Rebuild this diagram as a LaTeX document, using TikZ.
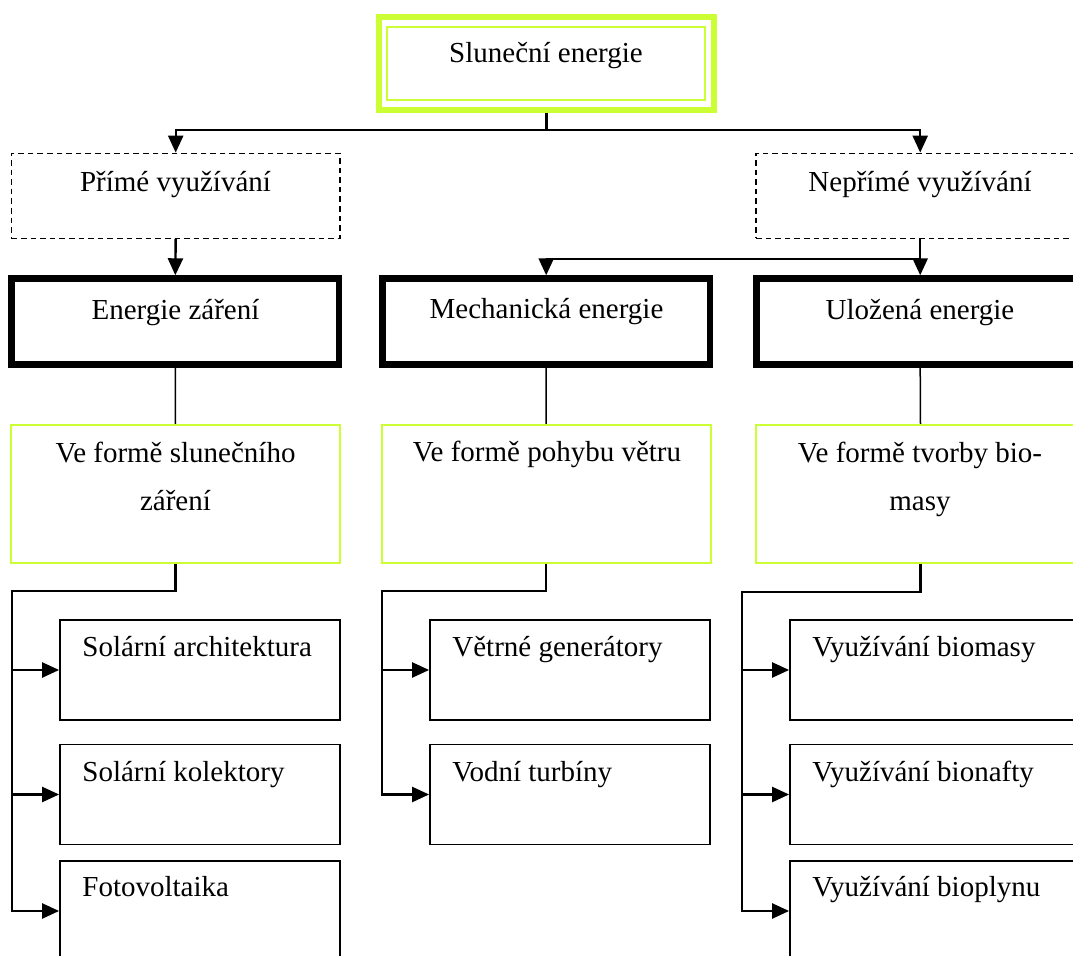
\documentclass[tikz,border=0pt]{standalone}
\usepackage{fontspec}
\setmainfont{Liberation Serif}
\usetikzlibrary{arrows.meta}
\definecolor{sunlime}{RGB}{204,255,51}

\begin{document}
\begin{tikzpicture}[x=0.5pt,y=-0.5pt,
  txt/.style={font=\fontsize{14.5}{24}\selectfont, inner sep=0pt},
  frame/.style={draw, rectangle, inner sep=0pt},
  sunouter/.style={frame, draw=sunlime, line width=3pt, minimum width=167.5pt, minimum height=46.5pt},
  suninner/.style={frame, draw=sunlime, line width=1pt, minimum width=159pt, minimum height=36.5pt},
  waybox/.style={frame, line width=0.7pt, dash pattern=on 2.8pt off 2pt, minimum width=164.25pt, minimum height=42.5pt},
  formbox/.style={frame, line width=3.2pt, minimum width=163.75pt, minimum height=43pt},
  greenbox/.style={frame, draw=sunlime, line width=1pt, minimum width=164.5pt, minimum height=69pt},
  usebox/.style={frame, line width=0.9pt, minimum width=140pt, minimum height=50pt},
  conn/.style={line width=1.2pt},
  arr/.style={conn, -{Triangle[length=8.5pt,width=7.5pt]}},
  thinline/.style={line width=0.75pt}
]
\useasboundingbox (0,0) rectangle (1073,956);

% --- top: source ---
\node[sunouter] (sun) at (546.5,63.5) {};
\node[suninner] (sunin) at (546,63.5) {};
\node[txt, anchor=base] (sunT) at (546,63) {Sluneční energie};

% --- ways of use ---
\node[waybox] (direct) at (175.7,195.8) {};
\node[txt, anchor=base] (directT) at (175.5,192) {Přímé využívání};
\node[waybox] (indirect) at (920.2,195.8) {};
\node[txt, anchor=base] (indirectT) at (920,192) {Nepřímé využívání};

% --- energy forms ---
\node[formbox] (radiant) at (175.3,321.5) {};
\node[txt, anchor=base] (radiantT) at (175.5,320) {Energie záření};
\node[formbox] (mech) at (546.2,321.5) {};
\node[txt, anchor=base] (mechT) at (546.5,319) {Mechanická energie};
\node[formbox] (stored) at (920.2,321.5) {};
\node[txt, anchor=base] (storedT) at (920,320) {Uložená energie};

% --- carriers ---
\node[greenbox] (solarform) at (175.5,494) {};
\node[txt, anchor=base] (solarT1) at (175.5,463) {Ve formě slunečního};
\node[txt, anchor=base] (solarT2) at (175.5,511) {záření};
\node[greenbox] (windform) at (546,494) {};
\node[txt, anchor=base] (windT) at (547,462) {Ve formě pohybu větru};
\node[greenbox] (bioform) at (920.5,494) {};
\node[txt, anchor=base] (bioT1) at (920,463) {Ve formě tvorby bio-};
\node[txt, anchor=base] (bioT2) at (920,511) {masy};

% --- applications ---
\node[usebox] (arch) at (200,670) {};
\node[txt, anchor=base west] (archT) at (82,657) {Solární architektura};
\node[usebox] (coll) at (200,794.5) {};
\node[txt, anchor=base west] (collT) at (82,782) {Solární kolektory};
\node[usebox] (pv) at (200,911) {};
\node[txt, anchor=base west] (pvT) at (82,897) {Fotovoltaika};

\node[usebox] (gen) at (570,670) {};
\node[txt, anchor=base west] (genT) at (452,657) {Větrné generátory};
\node[usebox] (water) at (570,794.5) {};
\node[txt, anchor=base west] (waterT) at (452,782) {Vodní turbíny};

\node[usebox, minimum width=145pt] (bmass) at (935,670) {};
\node[txt, anchor=base west] (bmassT) at (812,657) {Využívání biomasy};
\node[usebox, minimum width=145pt] (bdiesel) at (935,794.5) {};
\node[txt, anchor=base west] (bdieselT) at (812,782) {Využívání bionafty};
\node[usebox, minimum width=145pt] (bgas) at (935,911) {};
\node[txt, anchor=base west] (bgasT) at (812,897) {Využívání bioplynu};

% --- connectors ---
\coordinate (split) at (546.5,130);
\draw[arr] (sun.south) -- (split) -| (direct.north);
\draw[arr] (split) -| (indirect.north);

\draw[arr] (direct.south) -- (radiant.north);
\draw[arr] (indirect.south) -- (stored.north);
\coordinate (tap) at (920.2,259);
\draw[arr] (tap) -| (mech.north);

\draw[thinline] (radiant.south) -- (solarform.north);
\draw[thinline] (mech.south) -- (windform.north);
\draw[thinline] (stored.south) -- (bioform.north);

\coordinate (busL) at (12,591);
\draw[arr] (solarform.south) |- (busL) |- (pv.west);
\draw[arr] (busL |- arch.west) -- (arch.west);
\draw[arr] (busL |- coll.west) -- (coll.west);

\coordinate (busM) at (382,591);
\draw[arr] (windform.south) |- (busM) |- (water.west);
\draw[arr] (busM |- gen.west) -- (gen.west);

\coordinate (busR) at (742,592);
\draw[arr] (bioform.south) |- (busR) |- (bgas.west);
\draw[arr] (busR |- bmass.west) -- (bmass.west);
\draw[arr] (busR |- bdiesel.west) -- (bdiesel.west);
\end{tikzpicture}
\end{document}
